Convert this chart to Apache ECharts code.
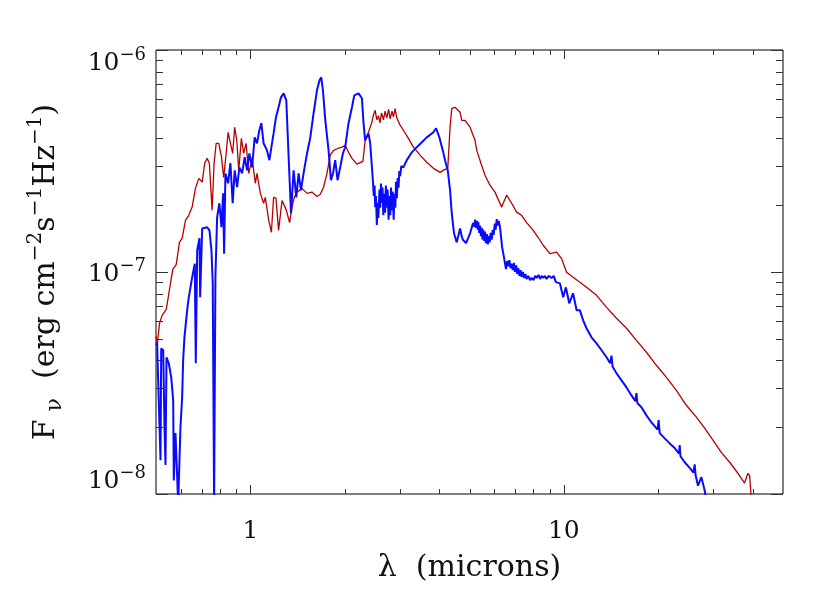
<!DOCTYPE html>
<html>
<head>
<meta charset="utf-8">
<script src="https://cdn.jsdelivr.net/npm/echarts@6/dist/echarts.min.js"></script>
<style>
html,body{margin:0;padding:0;background:#fff;}
#chart{width:830px;height:593px;}
</style>
</head>
<body>
<div id="chart"></div>
<script>
// ---- data (wavelength in microns, F_nu in erg cm^-2 s^-1 Hz^-1) ----
const redWave = [0.500,0.505,0.513,0.523,0.539,0.547,0.556,0.566,0.580,0.594,0.606,0.621,0.636,0.652,0.668,0.685,0.702,0.715,0.728,0.740,0.755,0.766,0.778,0.793,0.809,0.822,0.837,0.849,0.864,0.878,0.891,0.905,0.918,0.936,0.952,0.969,0.988,1.013,1.037,1.050,1.076,1.102,1.116,1.144,1.167,1.186,1.207,1.230,1.262,1.302,1.334,1.358,1.381,1.408,1.461,1.516,1.572,1.631,1.671,1.712,1.755,1.798,1.842,1.910,1.959,2.007,2.056,2.109,2.187,2.285,2.324,2.381,2.441,2.47,2.501,2.53,2.562,2.59,2.62,2.658,2.69,2.725,2.76,2.792,2.83,2.86,2.896,2.93,2.968,3.00,3.077,3.192,3.312,3.478,3.653,3.836,4.029,4.178,4.262,4.335,4.389,4.496,4.665,4.723,4.839,5.019,5.207,5.272,5.469,5.603,5.811,6.029,6.333,6.569,6.814,7.069,7.333,7.607,7.984,8.283,8.592,9.025,9.479,9.833,10.20,10.70,11.25,11.81,12.71,13.68,14.72,15.84,17.04,18.34,19.73,21.24,22.85,24.59,26.46,28.12,29.89,31.78,33.79,35.91,37.71,38.64,39.13,39.62];
const redFlux = [5.13e-8,4.77e-8,5.87e-8,6.38e-8,6.79e-8,7.69e-8,8.89e-8,1.03e-7,1.08e-7,1.36e-7,1.42e-7,1.71e-7,1.80e-7,1.96e-7,2.38e-7,2.64e-7,2.54e-7,3.09e-7,3.25e-7,3.09e-7,1.90e-7,3.09e-7,3.80e-7,3.80e-7,3.29e-7,2.67e-7,3.42e-7,4.26e-7,3.80e-7,3.42e-7,4.49e-7,3.92e-7,2.87e-7,4.00e-7,3.42e-7,3.80e-7,2.78e-7,3.25e-7,2.51e-7,2.78e-7,2.26e-7,2.04e-7,2.17e-7,1.71e-7,1.51e-7,2.17e-7,2.15e-7,1.54e-7,2.10e-7,1.90e-7,1.67e-7,1.96e-7,2.17e-7,2.29e-7,2.38e-7,2.26e-7,2.29e-7,2.19e-7,2.24e-7,2.41e-7,2.78e-7,3.36e-7,3.53e-7,3.61e-7,3.65e-7,3.72e-7,3.46e-7,3.25e-7,3.06e-7,3.15e-7,3.92e-7,4.26e-7,4.72e-7,5.10e-7,5.35e-7,4.85e-7,5.05e-7,4.70e-7,5.20e-7,4.85e-7,5.30e-7,4.95e-7,5.40e-7,4.90e-7,5.30e-7,5.00e-7,5.45e-7,4.95e-7,5.05e-7,4.60e-7,4.35e-7,4.00e-7,3.65e-7,3.36e-7,3.12e-7,2.93e-7,2.81e-7,2.90e-7,2.93e-7,4.49e-7,5.46e-7,5.52e-7,5.24e-7,4.82e-7,4.82e-7,4.49e-7,3.92e-7,3.53e-7,3.02e-7,2.73e-7,2.46e-7,2.29e-7,1.96e-7,2.22e-7,2.04e-7,1.86e-7,1.80e-7,1.67e-7,1.54e-7,1.43e-7,1.32e-7,1.21e-7,1.23e-7,1.15e-7,9.97e-8,9.47e-8,8.99e-8,8.53e-8,7.85e-8,6.93e-8,6.19e-8,5.58e-8,4.92e-8,4.35e-8,3.80e-8,3.35e-8,2.93e-8,2.51e-8,2.22e-8,1.98e-8,1.75e-8,1.54e-8,1.39e-8,1.24e-8,1.12e-8,1.24e-8,1.21e-8,9.5e-9];

const blueWave = [0.5004,0.504,0.5105,0.5169,0.5195,0.5272,0.5322,0.5361,0.5401,0.5492,0.5592,0.5673,0.5698,0.5769,0.5842,0.5884,0.5984,0.6059,0.6103,0.6162,0.6285,0.6361,0.6522,0.6648,0.6697,0.6766,0.688,0.6915,0.7019,0.728,0.7404,0.7514,0.7585,0.7662,0.7735,0.7832,0.7966,0.8085,0.8187,0.8246,0.8326,0.8489,0.8636,0.8781,0.8913,0.9071,0.9225,0.941,0.959,0.9761,0.9927,1.0125,1.032,1.050,1.068,1.084,1.102,1.130,1.150,1.167,1.186,1.207,1.230,1.252,1.277,1.302,1.315,1.334,1.348,1.374,1.401,1.425,1.450,1.478,1.516,1.553,1.591,1.631,1.662,1.683,1.704,1.734,1.776,1.807,1.834,1.865,1.897,1.934,1.973,2.007,2.056,2.109,2.145,2.213,2.269,2.296,2.324,2.381,2.411,2.459,2.475,2.490,2.501,2.515,2.532,2.545,2.560,2.581,2.595,2.610,2.627,2.640,2.655,2.672,2.690,2.705,2.725,2.740,2.760,2.777,2.795,2.810,2.827,2.845,2.865,2.882,2.900,2.915,2.933,2.950,2.970,2.985,3.004,3.030,3.077,3.155,3.273,3.395,3.523,3.653,3.836,3.912,4.008,4.109,4.178,4.262,4.335,4.389,4.464,4.553,4.665,4.72,4.758,4.82,4.875,4.95,5.019,5.08,5.13,5.18,5.207,5.24,5.28,5.31,5.335,5.37,5.40,5.44,5.47,5.50,5.534,5.57,5.60,5.64,5.68,5.72,5.76,5.80,5.84,5.886,5.93,5.97,6.02,6.06,6.106,6.15,6.20,6.256,6.30,6.35,6.409,6.537,6.59,6.648,6.70,6.76,6.815,6.87,6.93,6.982,7.05,7.10,7.154,7.22,7.28,7.333,7.40,7.47,7.54,7.607,7.70,7.80,7.890,8.00,8.10,8.185,8.30,8.40,8.491,8.60,8.70,8.808,8.95,9.137,9.28,9.430,9.712,9.950,10.15,10.40,10.70,10.98,11.25,11.52,11.81,12.25,12.71,13.19,13.68,14.05,14.19,14.30,14.72,15.27,15.84,16.43,16.90,17.04,17.15,17.68,18.34,19.03,19.90,20.05,20.22,20.97,21.76,22.57,23.30,23.41,23.55,24.29,25.19,25.90,26.14,26.30,26.78,27.45,28.12,28.60];
const blueFlux = [4.68e-8,4.82e-8,2.56e-8,1.42e-8,4.53e-8,4.44e-8,2.00e-8,1.35e-8,4.13e-8,3.88e-8,3.35e-8,2.64e-8,1.15e-8,1.88e-8,1.19e-8,9.0e-9,2.00e-8,2.73e-8,4.00e-8,5.08e-8,6.72e-8,7.69e-8,9.47e-8,1.09e-7,3.88e-8,1.25e-7,1.42e-7,7.69e-8,1.57e-7,1.59e-7,1.54e-7,1.25e-7,8.89e-8,9.0e-9,9.47e-8,1.76e-7,2.04e-7,1.59e-7,2.26e-7,1.21e-7,2.78e-7,2.51e-7,3.09e-7,2.04e-7,2.87e-7,2.41e-7,2.96e-7,2.78e-7,3.29e-7,2.87e-7,3.42e-7,2.96e-7,4.04e-7,3.80e-7,4.35e-7,4.68e-7,3.80e-7,3.53e-7,3.19e-7,3.65e-7,4.21e-7,4.98e-7,5.52e-7,6.12e-7,6.38e-7,5.93e-7,4.21e-7,2.59e-7,1.84e-7,2.87e-7,2.17e-7,2.78e-7,2.33e-7,2.78e-7,3.42e-7,4.04e-7,5.19e-7,6.58e-7,7.30e-7,7.53e-7,6.58e-7,4.82e-7,3.53e-7,2.59e-7,2.78e-7,3.19e-7,2.59e-7,2.96e-7,3.42e-7,3.65e-7,4.68e-7,5.52e-7,6.25e-7,6.38e-7,6.06e-7,4.68e-7,3.92e-7,4.21e-7,3.80e-7,2.59e-7,2.20e-7,2.45e-7,1.96e-7,2.20e-7,1.63e-7,2.05e-7,1.75e-7,2.35e-7,1.95e-7,2.50e-7,2.05e-7,2.40e-7,1.80e-7,2.25e-7,1.85e-7,2.45e-7,1.95e-7,2.35e-7,1.72e-7,2.20e-7,1.80e-7,2.40e-7,1.90e-7,2.30e-7,1.72e-7,2.25e-7,1.95e-7,2.55e-7,2.15e-7,2.65e-7,2.40e-7,2.85e-7,2.70e-7,3.00e-7,2.96e-7,3.19e-7,3.46e-7,3.65e-7,3.84e-7,4.04e-7,4.26e-7,4.44e-7,4.04e-7,3.53e-7,3.19e-7,2.87e-7,2.33e-7,1.84e-7,1.49e-7,1.36e-7,1.57e-7,1.45e-7,1.40e-7,1.38e-7,1.35e-7,1.42e-7,1.49e-7,1.58e-7,1.66e-7,1.60e-7,1.72e-7,1.58e-7,1.70e-7,1.55e-7,1.68e-7,1.50e-7,1.62e-7,1.45e-7,1.58e-7,1.40e-7,1.55e-7,1.38e-7,1.52e-7,1.35e-7,1.48e-7,1.33e-7,1.45e-7,1.36e-7,1.50e-7,1.40e-7,1.55e-7,1.47e-7,1.65e-7,1.55e-7,1.73e-7,1.62e-7,1.70e-7,1.59e-7,1.45e-7,1.30e-7,1.21e-7,1.03e-7,1.12e-7,1.06e-7,1.13e-7,1.04e-7,1.09e-7,1.02e-7,1.10e-7,1.00e-7,1.07e-7,9.8e-8,1.04e-7,9.6e-8,1.02e-7,9.5e-8,1.00e-7,9.4e-8,9.8e-8,9.3e-8,9.6e-8,9.2e-8,9.4e-8,9.2e-8,9.6e-8,9.4e-8,9.7e-8,9.3e-8,9.6e-8,9.4e-8,9.6e-8,9.3e-8,9.6e-8,9.4e-8,9.6e-8,9.0e-8,8.89e-8,7.69e-8,8.53e-8,7.23e-8,8.02e-8,6.72e-8,6.72e-8,6.06e-8,5.58e-8,5.08e-8,4.77e-8,4.44e-8,4.13e-8,3.88e-8,4.20e-8,3.75e-8,3.50e-8,3.25e-8,3.02e-8,2.78e-8,2.62e-8,2.85e-8,2.57e-8,2.46e-8,2.26e-8,2.10e-8,1.95e-8,2.15e-8,1.88e-8,1.78e-8,1.69e-8,1.61e-8,1.52e-8,1.66e-8,1.48e-8,1.39e-8,1.31e-8,1.25e-8,1.36e-8,1.22e-8,1.09e-8,1.19e-8,1.04e-8,9.0e-9];

// ---- axes ----
const xRange = [0.5, 50];
const yRange = [1e-8, 1e-6];
const xMajorTicks = [1, 10];
const xTickLabels = ['1', '10'];
const xMinorTicks = [0.6, 0.7, 0.8, 0.9, 2, 3, 4, 5, 6, 7, 8, 9, 20, 30, 40];
const yMajorTicks = [1e-8, 1e-7, 1e-6];
const yTickExponents = ['\u22128', '\u22127', '\u22126'];
const yMinorTicks = [2e-8, 3e-8, 4e-8, 5e-8, 6e-8, 7e-8, 8e-8, 9e-8, 2e-7, 3e-7, 4e-7, 5e-7, 6e-7, 7e-7, 8e-7, 9e-7];

const FONT = 'DejaVu Serif';
const TXT = '#111';

function zip(a, b) { return a.map((v, i) => [v, b[i]]); }
function findIdx(list, v) {
  for (let i = 0; i < list.length; i++) {
    if (Math.abs(Math.log10(v) - Math.log10(list[i])) < 0.005) return i;
  }
  return -1;
}

function tickSeries(values, axis, len) {
  const data = values.map(v => axis === 'x' ? [v, yRange[0]] : [xRange[0], v]);
  return {
    type: 'custom', silent: true, clip: false, z: 1, animation: false,
    data: data,
    renderItem: function (params, api) {
      const cs = params.coordSys;
      const st = { stroke: '#333', lineWidth: 1 };
      if (axis === 'x') {
        const px = Math.round(api.coord([api.value(0), yRange[0]])[0]) + 0.5;
        const yb = cs.y + cs.height, yt = cs.y;
        return { type: 'group', children: [
          { type: 'line', shape: { x1: px, y1: yb, x2: px, y2: yb - len }, style: st },
          { type: 'line', shape: { x1: px, y1: yt, x2: px, y2: yt + len }, style: st }
        ]};
      } else {
        const py = Math.round(api.coord([xRange[0], api.value(1)])[1]) + 0.5;
        const xl = cs.x, xr = cs.x + cs.width;
        return { type: 'group', children: [
          { type: 'line', shape: { x1: xl, y1: py, x2: xl + len, y2: py }, style: st },
          { type: 'line', shape: { x1: xr, y1: py, x2: xr - len, y2: py }, style: st }
        ]};
      }
    }
  };
}

const chart = echarts.init(document.getElementById('chart'), null, { renderer: 'canvas' });
chart.setOption({
  animation: false,
  backgroundColor: '#fff',
  grid: { left: 156, right: 47, top: 50, bottom: 99, show: true, borderColor: '#000', borderWidth: 1, backgroundColor: 'transparent' },
  xAxis: {
    type: 'log', logBase: 10, min: xRange[0], max: xRange[1],
    axisLine: { show: false }, axisTick: { show: false }, splitLine: { show: false },
    axisLabel: {
      fontFamily: FONT, fontSize: 25, color: TXT, margin: 25,
      showMinLabel: false, showMaxLabel: false,
      formatter: function (v) { const i = findIdx(xMajorTicks, v); return i < 0 ? '' : xTickLabels[i]; }
    },
    name: '\u03bb  (microns)', nameLocation: 'middle', nameGap: 59,
    nameTextStyle: { fontFamily: FONT, fontSize: 30, color: TXT }
  },
  yAxis: {
    type: 'log', logBase: 10, min: yRange[0], max: yRange[1],
    axisLine: { show: false }, axisTick: { show: false }, splitLine: { show: false },
    axisLabel: {
      margin: 10, verticalAlignMinLabel: 'bottom',
      formatter: function (v) {
        const i = findIdx(yMajorTicks, v);
        if (i < 0) return '';
        const lbl = '{b|10}{s|' + yTickExponents[i] + '}';
        return i === yMajorTicks.length - 1 ? '{g| }\n' + lbl : lbl;
      },
      rich: {
        b: { fontFamily: FONT, fontSize: 25, color: TXT, lineHeight: 30, verticalAlign: 'bottom' },
        s: { fontFamily: FONT, fontSize: 18, color: TXT, lineHeight: 30, verticalAlign: 'top' },
        g: { fontSize: 1, lineHeight: 22 }
      }
    },
    name: '{a|F}{v|\u03bd}{a|  (erg cm}{s|\u22122}{a|s}{s|\u22121}{a|Hz}{s|\u22121}{a|)}',
    nameLocation: 'middle', nameGap: 90, nameRotate: 90,
    nameTextStyle: {
      rich: {
        a: { fontFamily: FONT, fontSize: 30, color: TXT, lineHeight: 40, verticalAlign: 'middle' },
        s: { fontFamily: FONT, fontSize: 20, color: TXT, lineHeight: 40, verticalAlign: 'top' },
        v: { fontFamily: FONT, fontSize: 22, color: TXT, lineHeight: 40, verticalAlign: 'bottom', padding: [0, 0, 0, 8] }
      }
    }
  },
  series: [
    tickSeries(xMinorTicks, 'x', 5),
    tickSeries(xMajorTicks, 'x', 9),
    tickSeries(yMinorTicks, 'y', 7),
    tickSeries(yMajorTicks, 'y', 12),
    {
      name: 'red', type: 'line', data: zip(redWave, redFlux), showSymbol: false, symbol: 'none',
      lineStyle: { color: '#b40000', width: 1.3 }, z: 3, clip: true
    },
    {
      name: 'blue', type: 'line', data: zip(blueWave, blueFlux), showSymbol: false, symbol: 'none',
      lineStyle: { color: '#0a0aff', width: 2 }, z: 4, clip: true
    }
  ]
});
</script>
</body>
</html>
